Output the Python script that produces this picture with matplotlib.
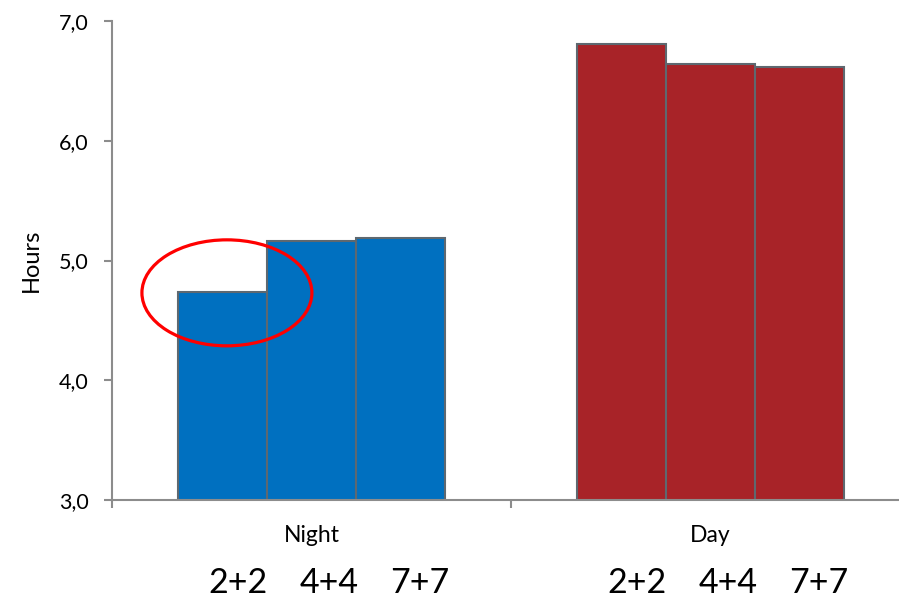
import matplotlib
matplotlib.use("Agg")
import matplotlib.pyplot as plt
from matplotlib.patches import Ellipse
from matplotlib.transforms import blended_transform_factory
import numpy as np

plt.rcParams['font.family'] = ['Lato', 'DejaVu Sans']

# Data
shifts = ["Night", "Day"]
schedules = ["2+2", "4+4", "7+7"]
night_hours = [4.74, 5.16, 5.19]
day_hours = [6.81, 6.64, 6.62]
colors = {"Night": "#0070C0", "Day": "#A82328"}
y_ticks = [3.0, 4.0, 5.0, 6.0, 7.0]

fig = plt.figure(figsize=(8.99, 5.99), dpi=100)
ax = fig.add_axes([112 / 899, 99 / 599, 798 / 899, 479 / 599])

bar_w = 0.223
offsets = np.array([-1, 0, 1]) * bar_w
centers = np.arange(len(shifts)) + 0.5
for c, shift, vals in zip(centers, shifts, [night_hours, day_hours]):
    ax.bar(c + offsets, vals, width=bar_w, bottom=0, color=colors[shift],
           edgecolor="#5E6870", linewidth=1.5, zorder=2)

ax.set_xlim(0, 2)
ax.set_ylim(3.0, 7.0)
ax.set_yticks(y_ticks)
ax.set_yticklabels([f"{v:.1f}".replace(".", ",") for v in y_ticks], fontsize=15.5)
ax.set_xticks([0, 1, 2])
ax.set_xticklabels([])

for side in ["top", "right"]:
    ax.spines[side].set_visible(False)
for side in ["left", "bottom"]:
    ax.spines[side].set_color("#8C8C8C")
    ax.spines[side].set_linewidth(1.5)
ax.tick_params(axis="both", direction="out", length=6, width=1.5, color="#8C8C8C")
ax.tick_params(axis="y", pad=11)

ax.set_ylabel("Hours", fontsize=17)
ax.yaxis.set_label_coords(-0.088, 0.5)

# Category names and schedule labels below the axis
trans = blended_transform_factory(ax.transData, ax.transAxes)
label_offsets = [-0.183, 0.044, 0.272]
for c, shift in zip(centers, shifts):
    ax.text(c, -0.0877, shift, transform=trans, ha="center", va="baseline",
            fontsize=16.5)
    for off, lab in zip(label_offsets, schedules):
        ax.text(c + off, -0.194, lab, transform=trans, ha="center",
                va="baseline", fontsize=24.5)

# Highlight around the shortest night schedule
ell = Ellipse((0.288, 4.73), 0.426, 0.885, fill=False, edgecolor="#FF0000",
              linewidth=2.3, zorder=3, clip_on=False)
ax.add_patch(ell)

fig.savefig("out.png", dpi=100)
